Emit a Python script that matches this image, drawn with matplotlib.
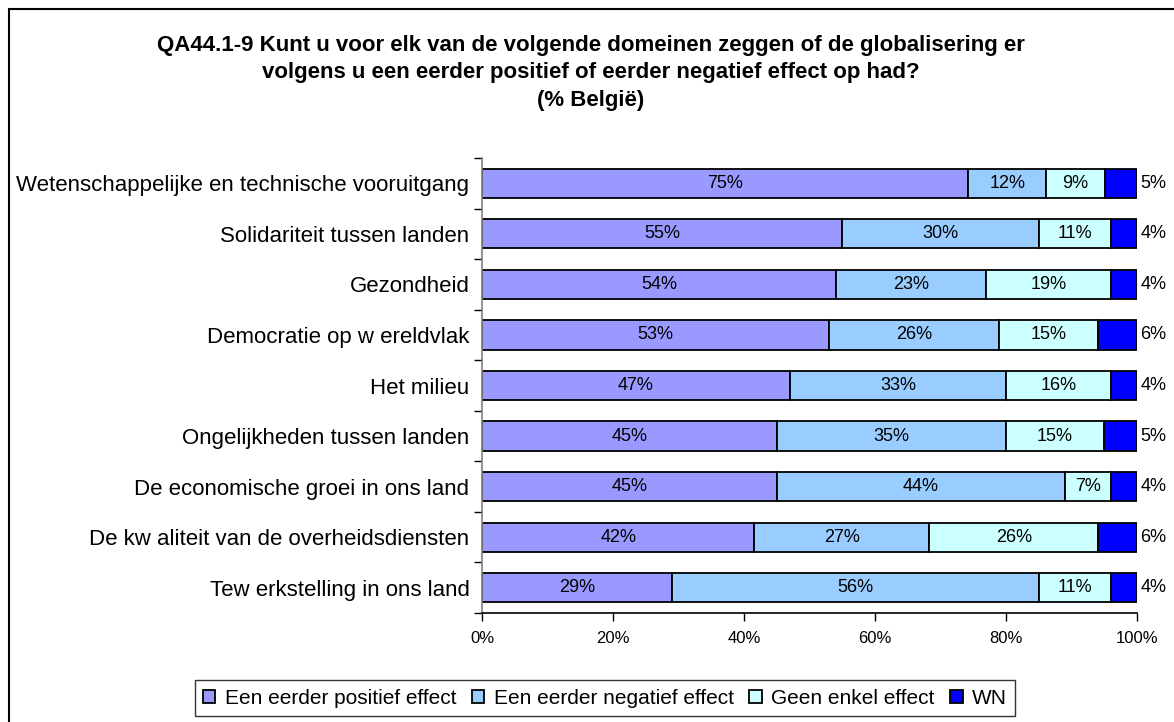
import numpy as np
import matplotlib.pyplot as plt
from matplotlib.patches import Rectangle
from matplotlib.ticker import FuncFormatter

plt.rcParams['font.family'] = ['Liberation Sans', 'DejaVu Sans']

# Domeinen (van boven naar onder)
domeinen = [
    "Wetenschappelijke en technische vooruitgang",
    "Solidariteit tussen landen",
    "Gezondheid",
    "Democratie op w ereldvlak",
    "Het milieu",
    "Ongelijkheden tussen landen",
    "De economische groei in ons land",
    "De kw aliteit van de overheidsdiensten",
    "Tew erkstelling in ons land",
]

# Percentages per antwoordcategorie
positief = [75, 55, 54, 53, 47, 45, 45, 42, 29]
negatief = [12, 30, 23, 26, 33, 35, 44, 27, 56]
geen = [9, 11, 19, 15, 16, 15, 7, 26, 11]
wn = [5, 4, 4, 6, 4, 5, 4, 6, 4]

reeksen = ["Een eerder positief effect", "Een eerder negatief effect",
           "Geen enkel effect", "WN"]
kleuren = ["#9999FF", "#99CCFF", "#CCFFFF", "#0000FF"]

data = np.array([positief, negatief, geen, wn], dtype=float)
totaal = data.sum(axis=0)
aandeel = data / totaal  # 100% gestapeld

fig = plt.figure(figsize=(11.74, 7.22), dpi=100)

# kader rond de grafiek
fig.patches.append(Rectangle((9 / 1174, -0.05), 1.2, 1 - 9 / 722 + 0.05,
                             transform=fig.transFigure, fill=False,
                             edgecolor='black', linewidth=1.5))

fig.text(0.503, 0.951,
         "QA44.1-9 Kunt u voor elk van de volgende domeinen zeggen of de globalisering er\n"
         "volgens u een eerder positief of eerder negatief effect op had?\n"
         "(% België)",
         ha='center', va='top', fontsize=16, fontweight='bold', linespacing=1.38)

ax = fig.add_axes([482 / 1174, 1 - 613 / 722, (1137 - 482) / 1174, (613 - 158) / 722])

y = np.arange(len(domeinen))
links = np.zeros(len(domeinen))
for i in range(4):
    ax.barh(y, aandeel[i], left=links, height=0.58, color=kleuren[i],
            edgecolor='black', linewidth=1.3, label=reeksen[i])
    for j in range(len(domeinen)):
        tekst = f"{int(data[i, j])}%"
        if i < 3:
            ax.text(links[j] + aandeel[i, j] / 2, y[j], tekst,
                    ha='center', va='center', fontsize=13)
        else:
            ax.text(1.005, y[j], tekst, ha='left', va='center', fontsize=13)
    links += aandeel[i]

ax.set_xlim(0, 1)
ax.set_ylim(len(domeinen) - 0.5, -0.5)

ax.set_xticks(np.linspace(0, 1, 6))
ax.xaxis.set_major_formatter(FuncFormatter(lambda v, p: f"{v * 100:.0f}%"))
ax.tick_params(axis='x', direction='out', length=6, width=1, labelsize=12, pad=7)

ax.set_yticks(np.arange(-0.5, len(domeinen)), labels=[])
ax.set_yticks(y, labels=domeinen, minor=True)
ax.tick_params(axis='y', which='major', direction='out', length=6, width=1)
ax.tick_params(axis='y', which='minor', length=0, labelsize=16, pad=9)

ax.spines['top'].set_visible(False)
ax.spines['right'].set_visible(False)
ax.spines['left'].set_color('#808080')
ax.spines['left'].set_linewidth(1.2)
ax.spines['bottom'].set_linewidth(1.2)

leg = fig.legend(loc='center', bbox_to_anchor=(605 / 1174, 1 - 698 / 722), ncol=4,
                 fontsize=15, frameon=True, fancybox=False, edgecolor='black',
                 handlelength=0.6, handleheight=0.6, handletextpad=0.45,
                 columnspacing=0.75, borderpad=0.4, borderaxespad=0)
leg.get_frame().set_linewidth(1.0)

fig.savefig("out.png", dpi=100)
